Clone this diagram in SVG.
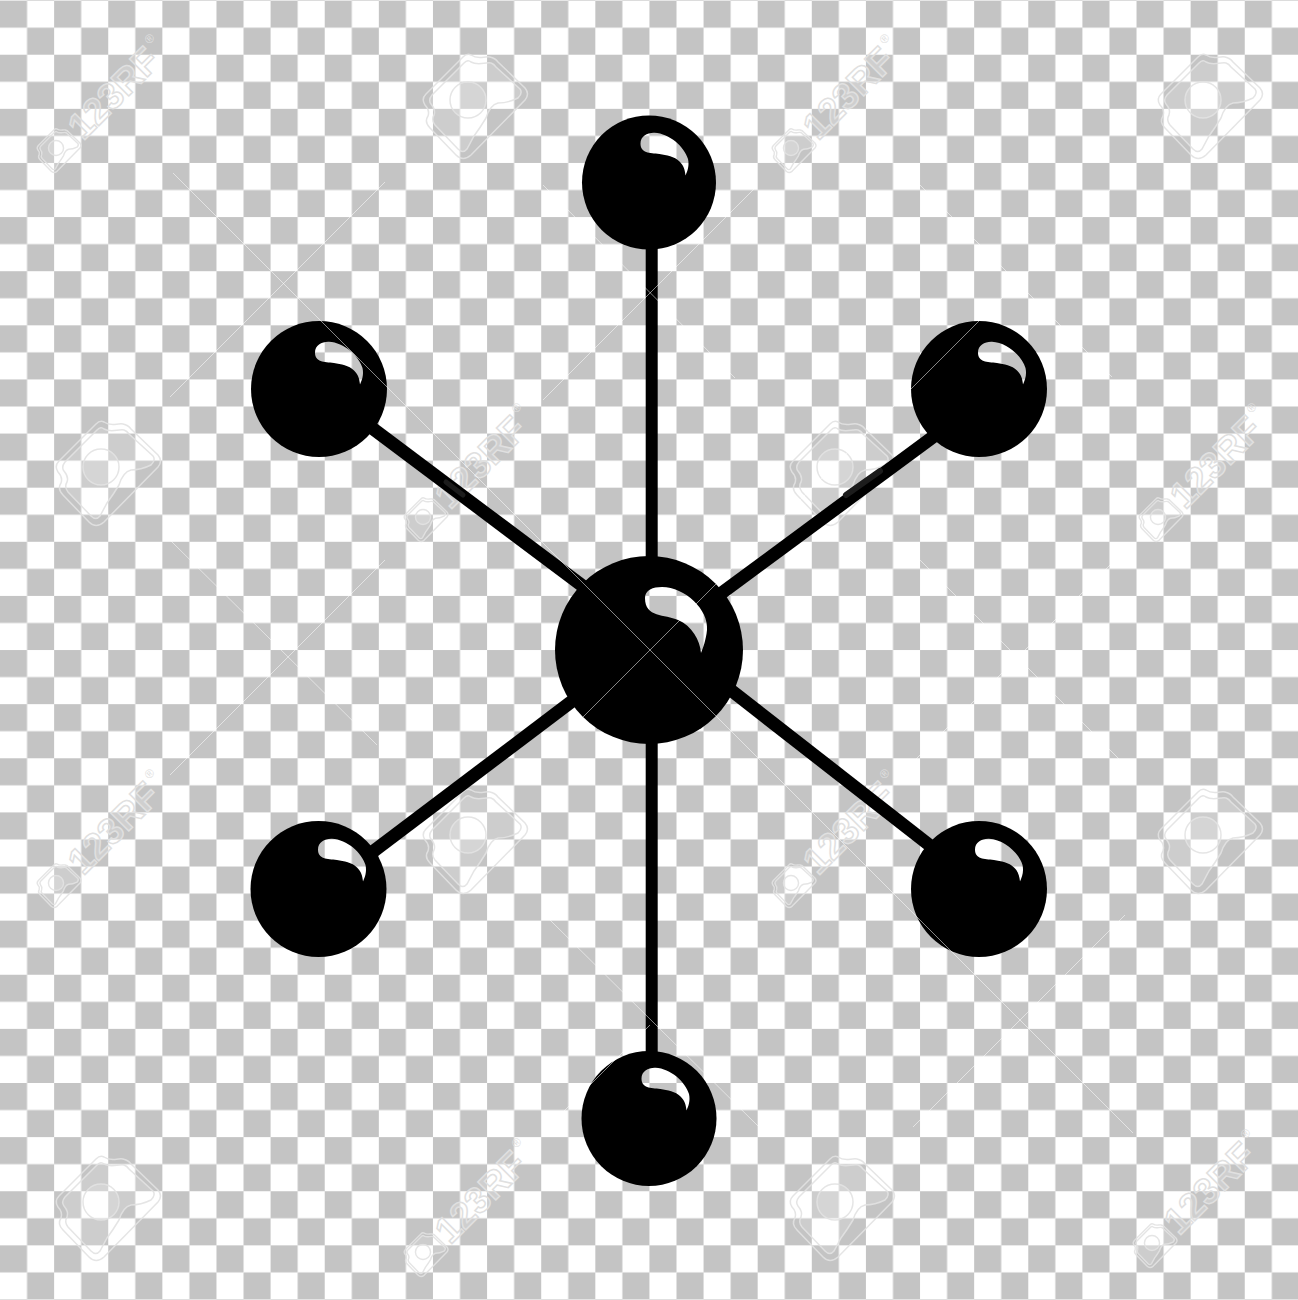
<svg xmlns="http://www.w3.org/2000/svg" width="1298" height="1300" viewBox="0 0 1298 1300">
<style>
.ball{fill:#000}
.shine{fill:url(#checker)}
.link{stroke:#000;stroke-width:12;fill:none}
.diag{stroke-width:13}
.patch{stroke:#1c1c1c;fill:none;stroke-linecap:round}
.hair{stroke:#fff;stroke-width:.7;opacity:.75;fill:none}
.wm{fill:#fff;fill-opacity:.16;stroke:#e2e2e2;stroke-opacity:.9}
.wl{fill:none;stroke:#e2e2e2;stroke-opacity:.9}
.wt{font-family:"Liberation Sans",Arial,sans-serif;font-weight:700;font-size:37px;fill:#fff;fill-opacity:.2;stroke:#e0e0e0;stroke-width:1.5}
.wr{font-family:"Liberation Sans",Arial,sans-serif;font-size:12px;fill:#e0e0e0}
</style>
<defs>
<pattern id="checker" patternUnits="userSpaceOnUse" width="54.12" height="54.12" patternTransform="translate(0 .6)">
<rect width="54.12" height="54.12" fill="#fff"/>
<rect width="27.06" height="27.06" fill="#c4c4c4"/>
<rect x="27.06" y="27.06" width="27.06" height="27.06" fill="#c4c4c4"/>
</pattern>
<g id="logo">
<path class="wl" d="M3,-45 C10,-40 16,-44 22,-43 Q27,-42 30,-38 L57,-12 Q62,-6 57,0 L3,55 Q-5,62 -12,55 L-38,28 Q-44,22 -40,16 Q-38,10 -43,5 Q-47,-1 -42,-6 L-5,-43 Q-1,-47 3,-45 Z"/>
<path class="wm" d="M3,-38 C10,-34 17,-38 23,-37 Q26,-36 28,-33 L52,-11 Q55,-7 50,-2 Q40,3 30,3 Q22,5 18,18 Q12,28 6,36 L-1,49 Q-5,54 -10,49 L-33,25 Q-37,20 -34,15 Q-32,10 -37,4 Q-40,0 -36,-5 L-4,-37 Q0,-41 3,-38 Z"/>
<circle class="wm" r="18"/>
</g>
<g id="mark">
<use href="#logo" transform="scale(.42)" stroke-width="3.4"/>
<text class="wt" transform="rotate(-45)" x="24" y="14.5">123RF</text>
<text class="wr" transform="rotate(-45)" x="139" y="-7">®</text>
</g>
</defs>
<rect id="background" width="1298" height="1300" fill="url(#checker)"/>
<g id="watermarks" stroke-width="1.5">
<use href="#mark" transform="translate(56 148)"/>
<use href="#logo" transform="translate(468 100)"/>
<use href="#mark" transform="translate(791 148)"/>
<use href="#logo" transform="translate(1203 100)"/>
<use href="#logo" transform="translate(101 467)"/>
<use href="#mark" transform="translate(423 517)"/>
<use href="#logo" transform="translate(835 467)"/>
<use href="#mark" transform="translate(1158 517)"/>
<use href="#mark" transform="translate(56 883)"/>
<use href="#logo" transform="translate(468 835)"/>
<use href="#mark" transform="translate(791 883)"/>
<use href="#logo" transform="translate(1203 835)"/>
<use href="#logo" transform="translate(101 1202)"/>
<use href="#mark" transform="translate(423 1252)"/>
<use href="#logo" transform="translate(835 1202)"/>
<use href="#mark" transform="translate(1152 1243)"/>
</g>
<g id="connectors">
<line class="link" x1="651.7" y1="200" x2="651.7" y2="1100"/>
<line class="link diag" x1="340" y1="404" x2="600" y2="599"/>
<line class="link diag" x1="700" y1="609" x2="960" y2="417"/>
<line class="link diag" x1="350" y1="869" x2="600" y2="680"/>
<line class="link diag" x1="700" y1="666" x2="960" y2="869"/>
<line class="patch" stroke-width="6" x1="846" y1="495" x2="880" y2="471"/>
<line class="patch" stroke-width="5" x1="446" y1="482" x2="463" y2="495"/>
</g>
<g id="node-center"><circle class="ball" cx="649" cy="650" r="94"/>
<path class="shine" d="M645,598 C645,590 653,587 662,587 C685,587 709,610 707,630 C706,640 703,648 701,653 C700,640 692,626 678,620 C665,614 645,618 645,598 Z"/></g>
<g id="node-top"><circle class="ball" cx="649" cy="182.5" r="67"/>
<path class="shine" d="M640.500,143.500c0,-7.500 7,-11 14,-10.700c15,.7 30,14.200 33.500,26.200c1.500,7 -.5,12 -2.500,16.500c-.5,-5.500 -2,-10.500 -6,-14c-5,-5 -13,-6.500 -20,-7.500c-10,-1 -19,-1 -19,-10.500z"/></g>
<g id="node-top-left"><circle class="ball" cx="319" cy="389" r="68"/>
<path class="shine" d="M315,352.500c0,-7.500 7,-11 14,-10.700c15,.7 30,14.200 33.500,26.200c1.500,7 -.5,12 -2.500,16.500c-.5,-5.500 -2,-10.500 -6,-14c-5,-5 -13,-6.500 -20,-7.500c-10,-1 -19,-1 -19,-10.500z"/></g>
<g id="node-top-right"><circle class="ball" cx="979" cy="389" r="68"/>
<path class="shine" d="M978,352.500c0,-7.500 7,-11 14,-10.700c15,.7 30,14.200 33.500,26.200c1.500,7 -.5,12 -2.500,16.500c-.5,-5.500 -2,-10.500 -6,-14c-5,-5 -13,-6.500 -20,-7.500c-10,-1 -19,-1 -19,-10.500z"/></g>
<g id="node-bottom-left"><circle class="ball" cx="318.500" cy="889" r="68"/>
<path class="shine" d="M318,849.500c0,-7.500 7,-11 14,-10.700c15,.7 30,14.200 33.500,26.200c1.500,7 -.5,12 -2.500,16.500c-.5,-5.500 -2,-10.500 -6,-14c-5,-5 -13,-6.500 -20,-7.500c-10,-1 -19,-1 -19,-10.500z"/></g>
<g id="node-bottom-right"><circle class="ball" cx="979" cy="889" r="68"/>
<path class="shine" d="M975,849.500c0,-7.500 7,-11 14,-10.700c15,.7 30,14.200 33.500,26.200c1.500,7 -.5,12 -2.500,16.500c-.5,-5.500 -2,-10.500 -6,-14c-5,-5 -13,-6.500 -20,-7.500c-10,-1 -19,-1 -19,-10.500z"/></g>
<g id="node-bottom"><circle class="ball" cx="649" cy="1118.500" r="67.500"/>
<path class="shine" d="M641.500,1078.500c0,-7.500 7,-11 14,-10.700c15,.7 30,14.200 33.500,26.200c1.500,7 -.5,12 -2.500,16.500c-.5,-5.500 -2,-10.500 -6,-14c-5,-5 -13,-6.500 -20,-7.500c-10,-1 -19,-1 -19,-10.500z"/></g>
<g id="hairlines">
<path class="hair" d="M173,173L1133,1133M583,717L1110,190M170,397L385,182M543,185L735,378M543,400L755,188M170,540L377,745M170,775L385,560M550,920L760,1128M920,560L1125,765M915,760L1125,550M545,1130L650,1025M920,185L1112,377M913,1127L1125,915"/>
</g>
</svg>
